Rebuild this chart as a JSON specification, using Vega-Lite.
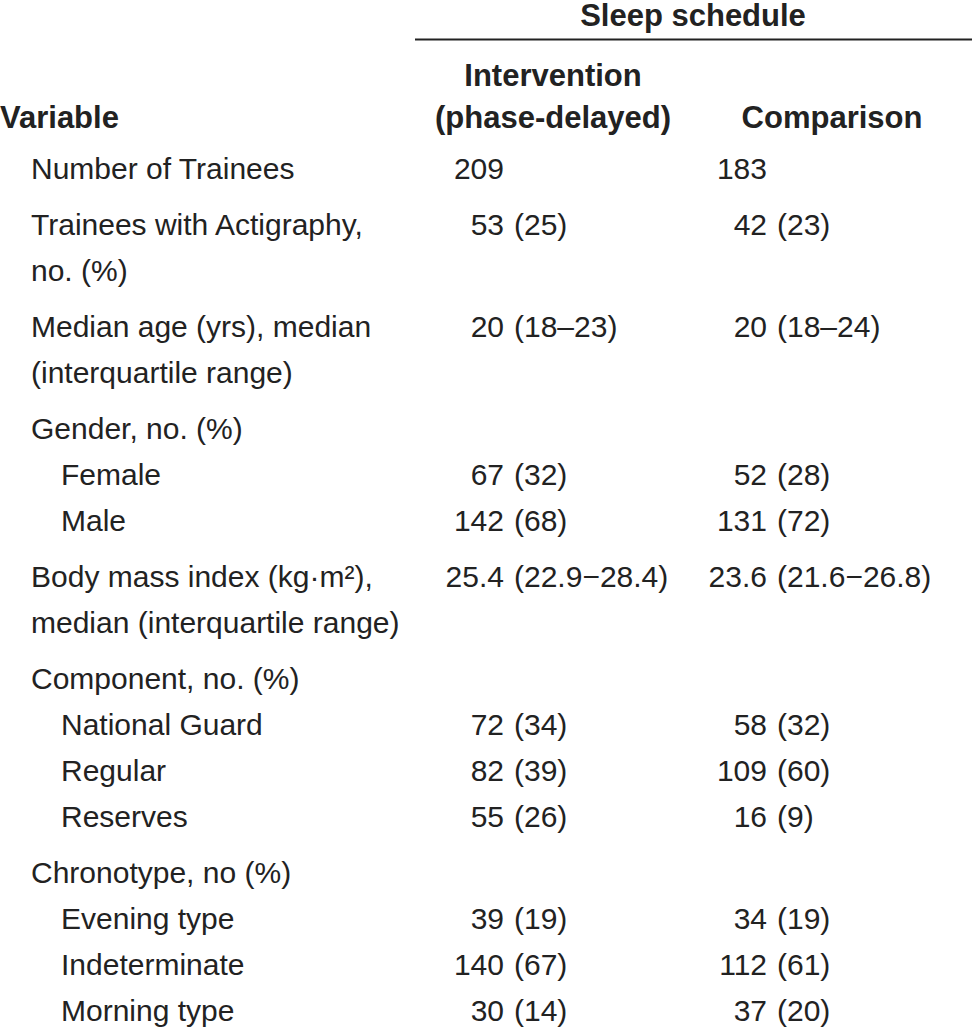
{
  "$schema": "https://vega.github.io/schema/vega-lite/v6.json",
  "padding": 0,
  "background": "white",
  "spacing": 16,
  "bounds": "flush",
  "config": {
    "view": {"stroke": null},
    "text": {"font": "Liberation Sans", "fontSize": 30, "color": "#222222", "baseline": "alphabetic"}
  },
  "datasets": {
    "header": [
      {"line": 1, "column": "Span", "text": "Sleep schedule"},
      {"line": 2, "column": "Intervention", "text": "Intervention"},
      {"line": 3, "column": "Intervention", "text": "(phase-delayed)"},
      {"line": 3, "column": "Variable", "text": "Variable"},
      {"line": 3, "column": "Comparison", "text": "Comparison"}
    ],
    "body": [
      {"group": "g1", "line": 1, "level": 0, "variable": "Number of Trainees", "int_n": 209, "comp_n": 183},
      {"group": "g2", "line": 1, "level": 0, "variable": "Trainees with Actigraphy,", "int_n": 53, "int_ci": "(25)", "comp_n": 42, "comp_ci": "(23)"},
      {"group": "g2", "line": 2, "level": 0, "variable": "no. (%)"},
      {"group": "g3", "line": 1, "level": 0, "variable": "Median age (yrs), median", "int_n": 20, "int_ci": "(18–23)", "comp_n": 20, "comp_ci": "(18–24)"},
      {"group": "g3", "line": 2, "level": 0, "variable": "(interquartile range)"},
      {"group": "g4", "line": 1, "level": 0, "variable": "Gender, no. (%)"},
      {"group": "g4", "line": 2, "level": 1, "variable": "Female", "int_n": 67, "int_ci": "(32)", "comp_n": 52, "comp_ci": "(28)"},
      {"group": "g4", "line": 3, "level": 1, "variable": "Male", "int_n": 142, "int_ci": "(68)", "comp_n": 131, "comp_ci": "(72)"},
      {"group": "g5", "line": 1, "level": 0, "variable": "Body mass index (kg·m²),", "int_n": 25.4, "int_ci": "(22.9−28.4)", "comp_n": 23.6, "comp_ci": "(21.6−26.8)"},
      {"group": "g5", "line": 2, "level": 0, "variable": "median (interquartile range)"},
      {"group": "g6", "line": 1, "level": 0, "variable": "Component, no. (%)"},
      {"group": "g6", "line": 2, "level": 1, "variable": "National Guard", "int_n": 72, "int_ci": "(34)", "comp_n": 58, "comp_ci": "(32)"},
      {"group": "g6", "line": 3, "level": 1, "variable": "Regular", "int_n": 82, "int_ci": "(39)", "comp_n": 109, "comp_ci": "(60)"},
      {"group": "g6", "line": 4, "level": 1, "variable": "Reserves", "int_n": 55, "int_ci": "(26)", "comp_n": 16, "comp_ci": "(9)"},
      {"group": "g7", "line": 1, "level": 0, "variable": "Chronotype, no (%)"},
      {"group": "g7", "line": 2, "level": 1, "variable": "Evening type", "int_n": 39, "int_ci": "(19)", "comp_n": 34, "comp_ci": "(19)"},
      {"group": "g7", "line": 3, "level": 1, "variable": "Indeterminate", "int_n": 140, "int_ci": "(67)", "comp_n": 112, "comp_ci": "(61)"},
      {"group": "g7", "line": 4, "level": 1, "variable": "Morning type", "int_n": 30, "int_ci": "(14)", "comp_n": 37, "comp_ci": "(20)"}
    ]
  },
  "resolve": {"scale": {"x": "independent", "y": "independent"}},
  "vconcat": [
    {
      "data": {"name": "header"},
      "width": 972,
      "height": {"step": 42},
      "encoding": {
        "y": {"field": "line", "type": "ordinal", "axis": null}
      },
      "layer": [
        {
          "transform": [{"filter": "datum.column == 'Span'"}],
          "mark": {"type": "rule", "strokeWidth": 2, "color": "#222222", "xOffset": -89, "x2Offset": 205, "yOffset": 18.5},
          "encoding": {
            "x": {"datum": "Intervention", "type": "nominal", "axis": null, "scale": {"type": "point", "domain": ["Variable", "Intervention", "Comparison"], "range": [241, 767], "padding": 0}},
            "x2": {"datum": "Comparison"}
          }
        },
        {
          "transform": [{"filter": "datum.column == 'Span'"}],
          "mark": {"type": "text", "align": "center", "fontWeight": "bold", "fontSize": 31, "dx": 189, "dy": 5},
          "encoding": {
            "x": {"datum": "Intervention", "type": "nominal", "axis": null, "scale": {"type": "point", "domain": ["Variable", "Intervention", "Comparison"], "range": [241, 767], "padding": 0}},
            "text": {"field": "text", "type": "nominal"}
          }
        },
        {
          "transform": [{"filter": "datum.column == 'Intervention'"}],
          "mark": {"type": "text", "align": "center", "fontWeight": "bold", "fontSize": 31, "dx": 49, "dy": 23},
          "encoding": {
            "x": {"datum": "Intervention", "type": "nominal", "axis": null, "scale": {"type": "point", "domain": ["Variable", "Intervention", "Comparison"], "range": [241, 767], "padding": 0}},
            "text": {"field": "text", "type": "nominal"}
          }
        },
        {
          "transform": [{"filter": "datum.column == 'Comparison'"}],
          "mark": {"type": "text", "align": "center", "fontWeight": "bold", "fontSize": 31, "dx": 65, "dy": 23},
          "encoding": {
            "x": {"datum": "Comparison", "type": "nominal", "axis": null, "scale": {"type": "point", "domain": ["Variable", "Intervention", "Comparison"], "range": [241, 767], "padding": 0}},
            "text": {"field": "text", "type": "nominal"}
          }
        },
        {
          "transform": [{"filter": "datum.column == 'Variable'"}],
          "mark": {"type": "text", "align": "left", "fontWeight": "bold", "fontSize": 31, "dx": -241, "dy": 23},
          "encoding": {
            "x": {"datum": "Variable", "type": "nominal", "axis": null, "scale": {"type": "point", "domain": ["Variable", "Intervention", "Comparison"], "range": [241, 767], "padding": 0}},
            "text": {"field": "text", "type": "nominal"}
          }
        }
      ]
    },
    {
      "data": {"name": "body"},
      "facet": {"row": {"field": "group", "type": "nominal", "header": null}},
      "spacing": {"row": 10},
      "bounds": "flush",
      "resolve": {"scale": {"y": "independent"}},
      "spec": {
        "width": 972,
        "height": {"step": 46},
        "encoding": {
          "y": {"field": "line", "type": "ordinal", "axis": null}
        },
        "layer": [
          {
            "transform": [{"filter": "datum.level == 0"}],
            "mark": {"type": "text", "align": "left", "dx": -210, "dy": 14},
            "encoding": {
              "x": {"datum": "Variable", "type": "nominal", "axis": null, "scale": {"type": "point", "domain": ["Variable", "Intervention", "Comparison"], "range": [241, 767], "padding": 0}},
              "text": {"field": "variable", "type": "nominal"}
            }
          },
          {
            "transform": [{"filter": "datum.level == 1"}],
            "mark": {"type": "text", "align": "left", "dx": -180, "dy": 14},
            "encoding": {
              "x": {"datum": "Variable", "type": "nominal", "axis": null, "scale": {"type": "point", "domain": ["Variable", "Intervention", "Comparison"], "range": [241, 767], "padding": 0}},
              "text": {"field": "variable", "type": "nominal"}
            }
          },
          {
            "transform": [{"filter": "isValid(datum.int_n)"}],
            "mark": {"type": "text", "align": "right", "dx": 0, "dy": 14},
            "encoding": {
              "x": {"datum": "Intervention", "type": "nominal", "axis": null, "scale": {"type": "point", "domain": ["Variable", "Intervention", "Comparison"], "range": [241, 767], "padding": 0}},
              "text": {"field": "int_n", "type": "nominal"}
            }
          },
          {
            "transform": [{"filter": "isValid(datum.int_ci)"}],
            "mark": {"type": "text", "align": "left", "dx": 10, "dy": 14},
            "encoding": {
              "x": {"datum": "Intervention", "type": "nominal", "axis": null, "scale": {"type": "point", "domain": ["Variable", "Intervention", "Comparison"], "range": [241, 767], "padding": 0}},
              "text": {"field": "int_ci", "type": "nominal"}
            }
          },
          {
            "transform": [{"filter": "isValid(datum.comp_n)"}],
            "mark": {"type": "text", "align": "right", "dx": 0, "dy": 14},
            "encoding": {
              "x": {"datum": "Comparison", "type": "nominal", "axis": null, "scale": {"type": "point", "domain": ["Variable", "Intervention", "Comparison"], "range": [241, 767], "padding": 0}},
              "text": {"field": "comp_n", "type": "nominal"}
            }
          },
          {
            "transform": [{"filter": "isValid(datum.comp_ci)"}],
            "mark": {"type": "text", "align": "left", "dx": 10, "dy": 14},
            "encoding": {
              "x": {"datum": "Comparison", "type": "nominal", "axis": null, "scale": {"type": "point", "domain": ["Variable", "Intervention", "Comparison"], "range": [241, 767], "padding": 0}},
              "text": {"field": "comp_ci", "type": "nominal"}
            }
          }
        ]
      }
    }
  ]
}
